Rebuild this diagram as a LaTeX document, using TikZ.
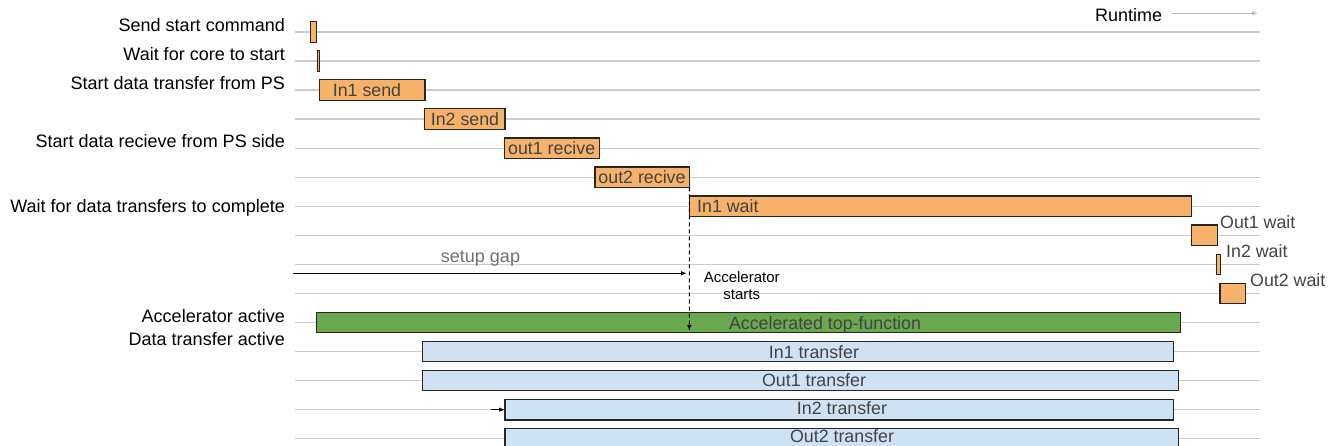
\documentclass[tikz,border=0pt]{standalone}
\usepackage{fontspec}
\setmainfont{Liberation Sans}
\usetikzlibrary{arrows.meta}
\definecolor{taskfill}{HTML}{F6B26B}
\definecolor{accfill}{HTML}{6AA84F}
\definecolor{xferfill}{HTML}{CFE2F3}
\definecolor{gridgray}{HTML}{CCCCCC}
\definecolor{txtgray}{HTML}{434343}
\definecolor{notegray}{HTML}{707070}
\definecolor{axisgray}{HTML}{B7B7B7}

\begin{document}
\begin{tikzpicture}[x=1pt,y=-1pt,
  bar/.style={draw=black!85, line width=1.2pt, inner sep=0pt, outer sep=0pt,
              minimum height=20.5pt, anchor=west},
  task/.style={bar, fill=taskfill},
  accbar/.style={bar, fill=accfill},
  xfer/.style={bar, fill=xferfill},
  grid line/.style={draw=gridgray, line width=1.3pt},
  rowlabel/.style={font=\fontsize{18}{20}\selectfont, inner sep=0pt, anchor=base east},
  bartext/.style={font=\fontsize{17.8}{20}\selectfont, text=txtgray, inner sep=0pt, anchor=base},
  sidetext/.style={bartext, anchor=base west},
  note/.style={font=\fontsize{15}{16.7}\selectfont, inner sep=0pt, align=center, anchor=base},
]
\useasboundingbox (0,0) rectangle (1338,446);

% timeline rows
\foreach \k in {0,...,14}
  \draw[grid line] (295,{32+29.05*\k}) -- (1260,{32+29.05*\k});

% row labels
\node[rowlabel] (l0) at (285,31.7)  {Send start command};
\node[rowlabel] (l1) at (285,60.7)  {Wait for core to start};
\node[rowlabel] (l2) at (285,90)    {Start data transfer from PS};
\node[rowlabel] (l4) at (285,147.3) {Start data recieve from PS side};
\node[rowlabel] (l6) at (285,212.7) {Wait for data transfers to complete};
\node[rowlabel] (l10) at (285,322.7) {Accelerator active};
\node[rowlabel] (l11) at (285,345)   {Data transfer active};

% runtime axis
\node[font=\fontsize{18}{20}\selectfont, inner sep=0pt, anchor=base west] (rt) at (1095,21.5) {Runtime};
\coordinate (rtA) at (1172,13.3);
\coordinate (rtB) at (1258,13.3);
\draw[draw=axisgray, line width=0.9pt, -{Latex[length=6pt,width=4.5pt]}] (rtA) -- (rtB);

% host-side steps
\node[task, minimum width=6.4pt]   (ssc)  at (310.3,32)    {};
\node[task, minimum width=1.6pt]   (wfc)  at (317.6,61.05) {};
\node[task, minimum width=105.7pt] (in1s) at (319.3,90.1)  {};
\node[task, minimum width=80.7pt]  (in2s) at (424.3,119.15){};
\node[task, minimum width=95pt]    (o1r)  at (504.3,148.2) {};
\node[task, minimum width=94.3pt]  (o2r)  at (595,177.25)  {};
\node[task, minimum width=502.4pt] (in1w) at (689.3,206.3) {};
\node[task, minimum width=25.6pt]  (o1w)  at (1191.7,235.35){};
\node[task, minimum width=4pt]     (in2w) at (1216.7,264.4){};
\node[task, minimum width=25.7pt]  (o2w)  at (1220,293.45) {};

\node[bartext] (t-in1s) at (367,96.3)    {In1 send};
\node[bartext] (t-in2s) at (465,125.3)   {In2 send};
\node[bartext] (t-o1r)  at (551.7,154.4) {out1 recive};
\node[bartext] (t-o2r)  at (642,183.4)   {out2 recive};
\node[sidetext] (t-in1w) at (697,212.3)  {In1 wait};
\node[sidetext] (t-o1w)  at (1220,228.5) {Out1 wait};
\node[sidetext] (t-in2w) at (1226,257.2) {In2 wait};
\node[sidetext] (t-o2w)  at (1250,286.3) {Out2 wait};

% accelerator and transfers
\node[accbar, minimum width=863.6pt] (acc)  at (316.7,322.5) {};
\node[xfer, minimum width=751pt]     (in1t) at (422.3,351.55){};
\node[xfer, minimum width=756.4pt]   (o1t)  at (422.3,380.6) {};
\node[xfer, minimum width=668.3pt]   (in2t) at (505,409.65)  {};
\node[xfer, minimum width=673.7pt]   (o2t)  at (505,438.7)   {};

\node[bartext] (t-acc)  at (825,329.3) {Accelerated top-function};
\node[bartext] (t-in1t) at (814,358.6) {In1 transfer};
\node[bartext] (t-o1t)  at (814,386.6) {Out1 transfer};
\node[bartext] (t-in2t) at (842,414.2) {In2 transfer};
\node[bartext] (t-o2t)  at (842,442.3) {Out2 transfer};

% setup gap and accelerator start
\coordinate (gapA) at (293,273.3);
\coordinate (gapB) at (687,273.3);
\draw[line width=0.9pt, -{Latex[length=6pt,width=4.5pt]}] (gapA) -- (gapB);
\node[font=\fontsize{18}{20}\selectfont, text=notegray, inner sep=0pt, anchor=base] (gap) at (480.5,262.3) {setup gap};
\node[note] (accst) at (741.7,299) {Accelerator\\starts};

\coordinate (accdown) at (689.3,331);
\draw[line width=0.9pt, dash pattern=on 4pt off 3pt, -{Latex[length=6pt,width=4.5pt]}] (o2r.south east) -- (accdown);

\coordinate (in2tin) at (491,409.65);
\draw[line width=0.9pt, -{Latex[length=6pt,width=4.5pt]}] (in2tin) -- (in2t.west);
\end{tikzpicture}
\end{document}
